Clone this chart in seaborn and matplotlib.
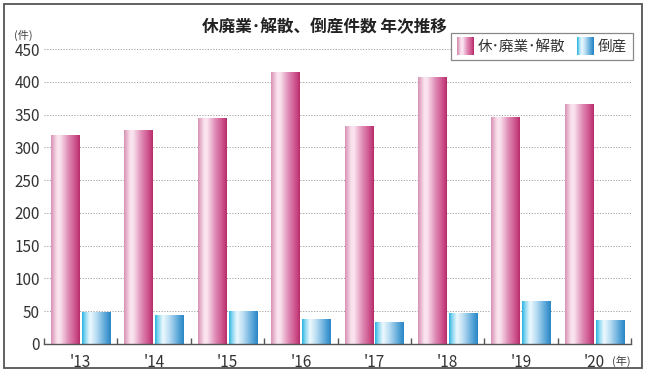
import numpy as np
import pandas as pd
import matplotlib
matplotlib.use("Agg")
import matplotlib.pyplot as plt
import seaborn as sns
from matplotlib.colors import LinearSegmentedColormap
from matplotlib.patches import Rectangle, Patch
from matplotlib.legend_handler import HandlerBase
from matplotlib.ticker import MultipleLocator, FixedLocator

# ---- data ----
years = ["'13", "'14", "'15", "'16", "'17", "'18", "'19", "'20"]
closures = [319, 327, 344, 415, 332, 407, 347, 366]
bankruptcies = [49, 44, 50, 38, 34, 48, 66, 36]
series_names = ["休･廃業･解散", "倒産"]
title_text = "休廃業･解散、倒産件数 年次推移"

df = pd.DataFrame({
    "year": years * 2,
    "count": closures + bankruptcies,
    "series": [series_names[0]] * len(years) + [series_names[1]] * len(years),
})

sns.set_theme(style="white")
plt.rcParams["font.family"] = ["Noto Sans CJK JP", "DejaVu Sans"]

pink_cmap = LinearSegmentedColormap.from_list(
    "pinkgrad",
    [(0.0, "#d691b4"), (0.22, "#fbe4ef"), (0.32, "#f9e2ee"), (0.6, "#e08cb6"),
     (0.88, "#ca4a86"), (1.0, "#b52c69")])
blue_cmap = LinearSegmentedColormap.from_list(
    "bluegrad",
    [(0.0, "#27b3e0"), (0.12, "#8fd8f2"), (0.28, "#eef9fe"), (0.5, "#b8dcf2"),
     (0.85, "#4d9fd4"), (1.0, "#2a86c4")])

fig = plt.figure(figsize=(6.48, 3.75), dpi=100)
ax = fig.add_axes([44 / 648, 1 - 344 / 375, (631 - 44) / 648, (344 - 49) / 375])

sns.barplot(data=df, x="year", y="count", hue="series",
            palette=["#e08ab4", "#5ab8e4"], width=0.84, gap=0.08,
            ax=ax, zorder=3, edgecolor="none", linewidth=0)

grad = np.linspace(0, 1, 256).reshape(1, -1)
for container, cmap in zip(ax.containers, [pink_cmap, blue_cmap]):
    for bar in container:
        x, y = bar.get_xy()
        w, h = bar.get_width(), bar.get_height()
        im = ax.imshow(grad, cmap=cmap, extent=[x, x + w, y, y + h],
                       aspect="auto", zorder=4, interpolation="bilinear")
        im.set_clip_path(bar)

if ax.legend_ is not None:
    ax.legend_.remove()

ax.set_xlim(-0.5, len(years) - 0.5)
ax.set_ylim(0, 450)
ax.set_aspect("auto")

ax.yaxis.set_major_locator(MultipleLocator(50))
ax.set_axisbelow(True)
for v in range(50, 451, 50):
    ax.axhline(v, color="#a0a0a0", lw=0.7, ls=(0, (1.2, 1.6)), zorder=1)
ax.grid(False)

for s in ["left", "right", "top"]:
    ax.spines[s].set_visible(False)
ax.spines["bottom"].set_color("#555555")
ax.spines["bottom"].set_linewidth(1.0)
ax.spines["bottom"].set_zorder(5)

ax.xaxis.set_minor_locator(FixedLocator(np.arange(-0.5, len(years), 1.0)))
ax.tick_params(axis="x", which="major", length=0, pad=7, labelsize=11, labelcolor="#333333")
ax.tick_params(axis="x", which="minor", direction="in", length=4, width=1, color="#555555", bottom=True)
ax.tick_params(axis="y", which="major", length=0, pad=3, labelsize=11, labelcolor="#333333")
ax.set_xlabel("")
ax.set_ylabel("")

fig.text(0.5, 1 - 27 / 375, title_text, ha="center", va="center",
         fontsize=12, fontweight="bold", color="#222222")
fig.text(23 / 648, 1 - 35 / 375, "(件)", ha="center", va="center",
         fontsize=8, color="#444444")
fig.text(621 / 648, 1 - 361 / 375, "(年)", ha="center", va="center",
         fontsize=8, color="#444444")


class GradHandler(HandlerBase):
    def __init__(self, cmap):
        super().__init__()
        self.cmap = cmap

    def create_artists(self, legend, orig_handle, xdescent, ydescent,
                       width, height, fontsize, trans):
        n = 40
        arts = []
        for i in range(n):
            r = Rectangle((-xdescent + width * i / n, -ydescent - 2), width / n * 1.1, height + 4,
                          facecolor=self.cmap(i / (n - 1)), edgecolor="none",
                          transform=trans)
            arts.append(r)
        return arts


h1 = Patch(facecolor="#e08ab4")
h2 = Patch(facecolor="#5ab8e4")
leg = ax.legend([h1, h2], series_names, ncol=2, loc="upper right",
                bbox_to_anchor=(1.003, 1.053), borderaxespad=0,
                handler_map={h1: GradHandler(pink_cmap), h2: GradHandler(blue_cmap)},
                frameon=True, fancybox=False, fontsize=10.5,
                handlelength=1.15, handleheight=1.0, handletextpad=0.25,
                columnspacing=0.8, borderpad=0.42)
leg.get_frame().set_edgecolor("#888888")
leg.get_frame().set_linewidth(0.9)
leg.get_frame().set_facecolor("white")
leg.get_frame().set_alpha(1)
leg.set_zorder(10)
for t in leg.get_texts():
    t.set_color("#333333")

border = Rectangle((4 / 648, 1 - 368 / 375), (642 - 4) / 648, (368 - 4) / 375,
                   transform=fig.transFigure, fill=False, edgecolor="#555555",
                   linewidth=1.3, zorder=20)
fig.patches.append(border)

fig.savefig("out.png", dpi=100)
